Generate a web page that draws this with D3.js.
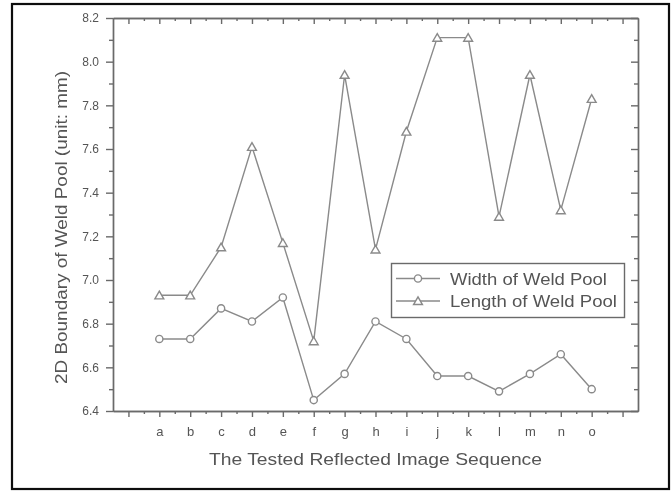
<!DOCTYPE html>
<html>
<head>
<meta charset="utf-8">
<script src="https://cdn.jsdelivr.net/npm/d3@7"></script>
<style>
  body { margin: 0; background: #fff; }
  svg { display: block; }
  text { font-family: "Liberation Sans", Arial, sans-serif; }
</style>
</head>
<body>
<div id="chart"></div>
<script>
// data
const categories = ["a", "b", "c", "d", "e", "f", "g", "h", "i", "j", "k", "l", "m", "n", "o"];
const widthValues = [6.73, 6.73, 6.87, 6.81, 6.92, 6.45, 6.57, 6.81, 6.73, 6.56, 6.56, 6.49, 6.57, 6.66, 6.50];
const lengthValues = [6.93, 6.93, 7.15, 7.61, 7.17, 6.72, 7.94, 7.14, 7.68, 8.11, 8.11, 7.29, 7.94, 7.32, 7.83];
const yTicks = [6.4, 6.6, 6.8, 7.0, 7.2, 7.4, 7.6, 7.8, 8.0, 8.2];
const seriesNames = ["Width of Weld Pool", "Length of Weld Pool"];

const W = 672, H = 491;
const plot = { left: 113, right: 638, top: 18, bottom: 411 };
const lineColor = "#8a8a8a", axisColor = "#6a6a6a", textColor = "#555";

const svg = d3.select("#chart").append("svg")
    .attr("width", W)
    .attr("height", H);

const defs = svg.append("defs");
defs.append("filter").attr("id", "soft")
    .append("feGaussianBlur").attr("stdDeviation", 0.45);

const root = svg.append("g").attr("filter", "url(#soft)");

// outer frame
root.append("rect")
    .attr("x", 12).attr("y", 4)
    .attr("width", 657).attr("height", 485)
    .attr("fill", "none")
    .attr("stroke", "#111")
    .attr("stroke-width", 2.2);

//Scales
const x = d3.scaleLinear()
    .domain([-0.5, categories.length + 1.5])
    .range([plot.left, plot.right]);
const y = d3.scaleLinear()
    .domain([yTicks[0], yTicks[yTicks.length - 1]])
    .range([plot.bottom, plot.top]);

const majorX = d3.range(0, categories.length + 2);
const minorX = d3.range(0, categories.length + 1).map(d => d + 0.5);
const minorY = d3.range(yTicks.length - 1).map(i => (yTicks[i] + yTicks[i + 1]) / 2);

function styleAxis(g) {
    g.selectAll("path, line").attr("stroke", axisColor).attr("stroke-width", 1.4);
    g.selectAll("text")
        .attr("fill", textColor)
        .style("font-family", '"Liberation Sans", Arial, sans-serif');
}

// bottom axis, ticks outward
root.append("g")
    .attr("transform", "translate(0," + plot.bottom + ")")
    .call(d3.axisBottom(x).tickValues(majorX).tickSize(6).tickSizeOuter(0).tickPadding(10)
        .tickFormat(d => categories[d - 1] || ""))
    .call(styleAxis)
    .call(g => g.selectAll("text").style("font-size", "13px"));
root.append("g")
    .attr("transform", "translate(0," + plot.bottom + ")")
    .call(d3.axisBottom(x).tickValues(minorX).tickSize(3).tickSizeOuter(0).tickFormat(""))
    .call(styleAxis);

// top axis, ticks pointing down into the plot
root.append("g")
    .attr("transform", "translate(0," + plot.top + ")")
    .call(d3.axisBottom(x).tickValues(majorX).tickSize(6).tickSizeOuter(0).tickFormat(""))
    .call(styleAxis);
root.append("g")
    .attr("transform", "translate(0," + plot.top + ")")
    .call(d3.axisBottom(x).tickValues(minorX).tickSize(3).tickSizeOuter(0).tickFormat(""))
    .call(styleAxis);

// left axis, ticks outward
root.append("g")
    .attr("transform", "translate(" + plot.left + ",0)")
    .call(d3.axisLeft(y).tickValues(yTicks).tickSize(7).tickSizeOuter(0).tickPadding(7)
        .tickFormat(d3.format(".1f")))
    .call(styleAxis)
    .call(g => g.selectAll("text").style("font-size", "12px"));
root.append("g")
    .attr("transform", "translate(" + plot.left + ",0)")
    .call(d3.axisLeft(y).tickValues(minorY).tickSize(4).tickSizeOuter(0).tickFormat(""))
    .call(styleAxis);

// right axis, ticks pointing left into the plot
root.append("g")
    .attr("transform", "translate(" + plot.right + ",0)")
    .call(d3.axisLeft(y).tickValues(yTicks).tickSize(7).tickSizeOuter(0).tickFormat(""))
    .call(styleAxis);
root.append("g")
    .attr("transform", "translate(" + plot.right + ",0)")
    .call(d3.axisLeft(y).tickValues(minorY).tickSize(4).tickSizeOuter(0).tickFormat(""))
    .call(styleAxis);

// series
const line = d3.line()
    .x((d, i) => x(i + 1))
    .y(d => y(d));

const triangle = d3.symbol().type(d3.symbolTriangle).size(34);

function drawSeries(values, marker) {
    root.append("path")
        .datum(values)
        .attr("d", line)
        .attr("fill", "none")
        .attr("stroke", lineColor)
        .attr("stroke-width", 1.4);
    const pts = root.append("g").selectAll("g")
        .data(values)
        .join("g")
        .attr("transform", (d, i) => "translate(" + x(i + 1) + "," + y(d) + ")");
    marker(pts);
}

function circleMarker(sel) {
    sel.append("circle").attr("r", 3.6)
        .attr("fill", "#fff").attr("stroke", lineColor).attr("stroke-width", 1.4);
}
function triangleMarker(sel) {
    sel.append("path").attr("d", triangle).attr("transform", "translate(0,1)")
        .attr("fill", "#fff").attr("stroke", lineColor).attr("stroke-width", 1.4);
}

drawSeries(lengthValues, triangleMarker);
drawSeries(widthValues, circleMarker);

// legend
const legend = root.append("g");
legend.append("rect")
    .attr("x", 391.5).attr("y", 263.5)
    .attr("width", 233).attr("height", 54)
    .attr("fill", "#fff")
    .attr("stroke", axisColor)
    .attr("stroke-width", 1.4);

const markers = [circleMarker, triangleMarker];
const textWidths = [157, 167];
seriesNames.forEach((name, i) => {
    const cy = 278.5 + i * 22.5;
    legend.append("line")
        .attr("x1", 396).attr("x2", 440)
        .attr("y1", cy).attr("y2", cy)
        .attr("stroke", lineColor).attr("stroke-width", 1.4);
    const m = legend.append("g").attr("transform", "translate(418," + cy + ")");
    markers[i](m);
    legend.append("text")
        .attr("x", 450).attr("y", cy + 6)
        .attr("fill", textColor)
        .style("font-size", "17px")
        .attr("textLength", textWidths[i])
        .attr("lengthAdjust", "spacingAndGlyphs")
        .text(name);
});

//Axis titles
root.append("text")
    .attr("x", (plot.left + plot.right) / 2)
    .attr("y", 465)
    .attr("text-anchor", "middle")
    .attr("fill", textColor)
    .style("font-size", "17px")
    .attr("textLength", 333)
    .attr("lengthAdjust", "spacingAndGlyphs")
    .text("The Tested Reflected Image Sequence");

root.append("text")
    .attr("transform", "translate(67,227.5)rotate(-90)")
    .attr("text-anchor", "middle")
    .attr("fill", textColor)
    .style("font-size", "17px")
    .attr("textLength", 313)
    .attr("lengthAdjust", "spacingAndGlyphs")
    .text("2D Boundary of Weld Pool (unit: mm)");
</script>
</body>
</html>
